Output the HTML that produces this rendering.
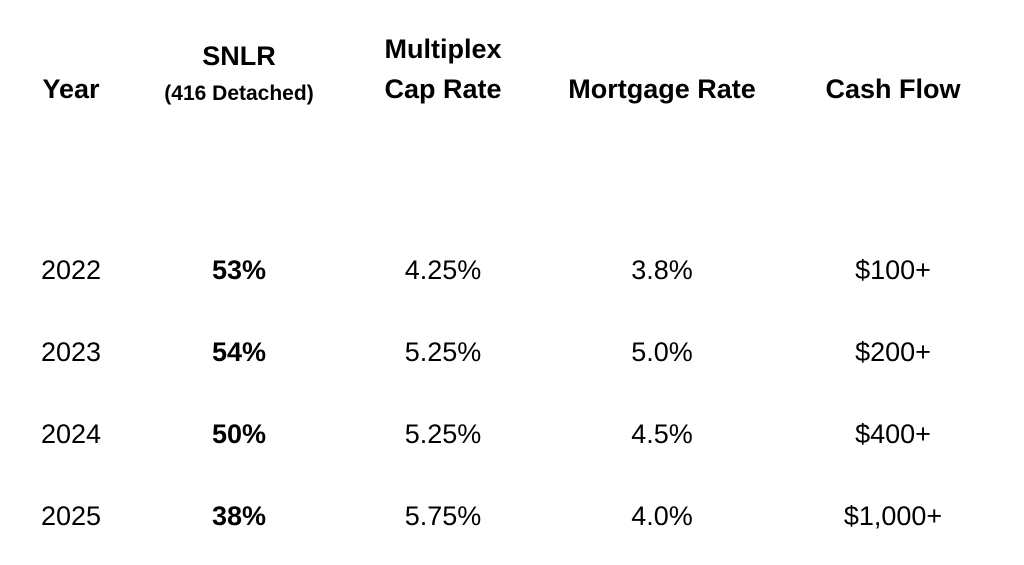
<!DOCTYPE html>
<html><head><meta charset="utf-8"><style>
html,body{margin:0;padding:0;background:#fff;}
svg{display:block;}
text{font-family:"Liberation Sans",Arial,sans-serif;fill:#000;}
.h{font-weight:bold;font-size:27px;}
.d{font-size:27px;}
.b{font-size:27px;font-weight:bold;}
</style></head><body>
<svg width="1024" height="565" viewBox="0 0 1024 565" xmlns="http://www.w3.org/2000/svg">
<rect width="1024" height="565" fill="#fff"/>
<g text-anchor="middle">
<text class="h" x="71" y="98">Year</text>
<text class="h" x="239" y="65">SNLR</text>
<text x="239" y="100" style="font-weight:bold;font-size:21px">(416 Detached)</text>
<text class="h" x="443" y="58">Multiplex</text>
<text class="h" x="443" y="98">Cap Rate</text>
<text class="h" x="662" y="98">Mortgage Rate</text>
<text class="h" x="893" y="98">Cash Flow</text>

<text class="d" x="71" y="279">2022</text>
<text class="b" x="239" y="279">53%</text>
<text class="d" x="443" y="279">4.25%</text>
<text class="d" x="662" y="279">3.8%</text>
<text class="d" x="893" y="279">$100+</text>

<text class="d" x="71" y="361">2023</text>
<text class="b" x="239" y="361">54%</text>
<text class="d" x="443" y="361">5.25%</text>
<text class="d" x="662" y="361">5.0%</text>
<text class="d" x="893" y="361">$200+</text>

<text class="d" x="71" y="443">2024</text>
<text class="b" x="239" y="443">50%</text>
<text class="d" x="443" y="443">5.25%</text>
<text class="d" x="662" y="443">4.5%</text>
<text class="d" x="893" y="443">$400+</text>

<text class="d" x="71" y="525">2025</text>
<text class="b" x="239" y="525">38%</text>
<text class="d" x="443" y="525">5.75%</text>
<text class="d" x="662" y="525">4.0%</text>
<text class="d" x="893" y="525">$1,000+</text>
</g>
</svg>
</body></html>
